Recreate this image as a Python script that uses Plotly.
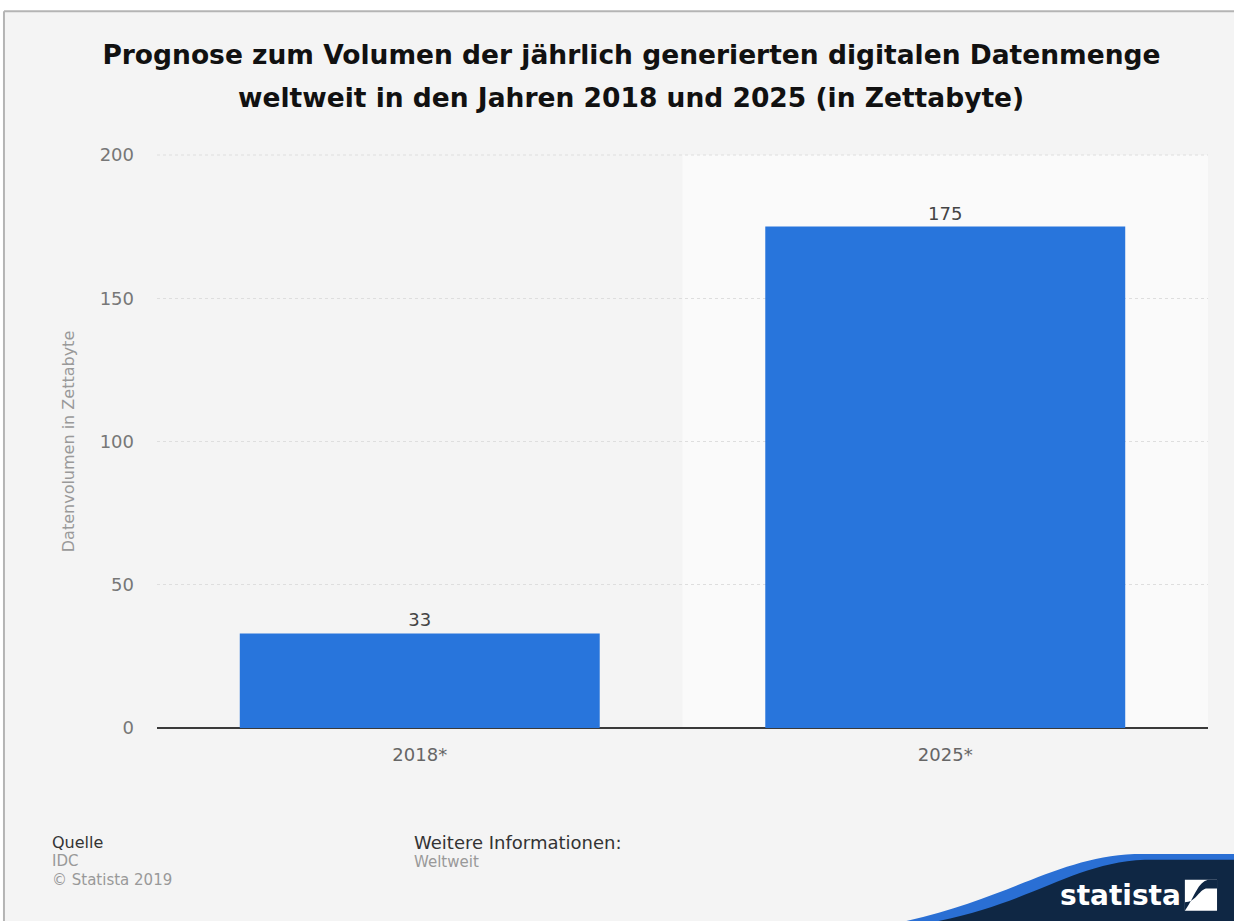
import plotly.graph_objects as go

# Chart data
categories = ["2018*", "2025*"]
values = [33, 175]
y_ticks = [0, 50, 100, 150, 200]

title_line1 = "<b>Prognose zum Volumen der jährlich generierten digitalen Datenmenge</b>"
title_line2 = "<b>weltweit in den Jahren 2018 und 2025 (in Zettabyte)</b>"
y_title = "Datenvolumen in Zettabyte"

BAR_COLOR = "#2875dc"
BG = "#f4f4f4"
NAVY = "#0f2744"
FRAME = "#b4b4b4"
FONT = "DejaVu Sans"
TITLE_FONT = dict(family=FONT, size=26.5, color="#111111")

fig = go.Figure()
fig.add_trace(go.Bar(
    x=categories, y=values,
    marker=dict(color=BAR_COLOR, line=dict(width=0)),
    width=0.685,
    text=[str(v) for v in values],
    textposition="outside",
    textfont=dict(family=FONT, size=18, color="#444444"),
    cliponaxis=False,
    hoverinfo="skip",
))

CARD_L, CARD_T = -0.1456, 1.251

shapes = [
    # card background
    dict(type="rect", xref="paper", yref="paper", x0=CARD_L, x1=1.2, y0=-0.4, y1=CARD_T,
         fillcolor=BG, line=dict(width=0), layer="below"),
    # card frame: top and left edges
    dict(type="line", xref="paper", yref="paper", x0=CARD_L, x1=1.2, y0=CARD_T, y1=CARD_T,
         line=dict(color=FRAME, width=2), layer="below"),
    dict(type="line", xref="paper", yref="paper", x0=CARD_L, x1=CARD_L, y0=-0.4, y1=CARD_T,
         line=dict(color=FRAME, width=2), layer="below"),
    # lighter band behind the second category
    dict(type="rect", xref="x", yref="paper", x0=0.5, x1=1.5, y0=0, y1=1,
         fillcolor="#fafafa", line=dict(width=0), layer="below"),
    # top gridline at the range maximum
    dict(type="line", xref="paper", yref="paper", x0=0, x1=1, y0=1, y1=1,
         line=dict(color="#dedede", width=1, dash="dot"), layer="below"),
    # statista logo banner: blue wave then navy body
    dict(type="path", xref="paper", yref="paper", layer="above",
         path="M 0.705,-0.34 C 0.81,-0.30 0.855,-0.226 0.93,-0.220 L 1.05,-0.220 L 1.05,-0.34 Z",
         fillcolor="#2a6fd4", line=dict(width=0)),
    dict(type="path", xref="paper", yref="paper", layer="above",
         path="M 0.735,-0.34 C 0.835,-0.305 0.87,-0.236 0.94,-0.230 L 1.05,-0.230 L 1.05,-0.34 Z",
         fillcolor=NAVY, line=dict(width=0)),
    # logo icon square with swoosh
    dict(type="rect", xref="paper", yref="paper", layer="above",
         x0=0.978, x1=1.0086, y0=-0.319, y1=-0.265,
         fillcolor="white", line=dict(width=0)),
    dict(type="path", xref="paper", yref="paper", layer="above",
         path="M 0.978,-0.319 L 0.978,-0.304 C 0.988,-0.304 0.991,-0.284 0.998,-0.280 L 1.0086,-0.280 L 1.0086,-0.265 L 1.000,-0.265 C 0.990,-0.270 0.988,-0.293 0.978,-0.319 Z",
         fillcolor=NAVY, line=dict(width=0)),
]

annotations = [
    # second title line
    dict(text=title_line2, xref="paper", yref="paper", x=0.4509, y=1.1012, xanchor="center", yanchor="middle",
         showarrow=False, font=TITLE_FONT),
    dict(text="Quelle", xref="paper", yref="paper", x=-0.102, y=-0.199, xanchor="left", yanchor="middle",
         showarrow=False, font=dict(family=FONT, size=16, color="#333333")),
    dict(text="IDC", xref="paper", yref="paper", x=-0.102, y=-0.232, xanchor="left", yanchor="middle",
         showarrow=False, font=dict(family=FONT, size=15, color="#999999")),
    dict(text="© Statista 2019", xref="paper", yref="paper", x=-0.102, y=-0.265, xanchor="left", yanchor="middle",
         showarrow=False, font=dict(family=FONT, size=15, color="#999999")),
    dict(text="Weitere Informationen:", xref="paper", yref="paper", x=0.2426, y=-0.199, xanchor="left", yanchor="middle",
         showarrow=False, font=dict(family=FONT, size=18, color="#333333")),
    dict(text="Weltweit", xref="paper", yref="paper", x=0.2426, y=-0.234, xanchor="left", yanchor="middle",
         showarrow=False, font=dict(family=FONT, size=15, color="#999999")),
    dict(text="<b>statista</b>", xref="paper", yref="paper", x=0.976, y=-0.292, xanchor="right", yanchor="middle",
         showarrow=False, font=dict(family=FONT, size=28, color="white")),
]

fig.update_layout(
    width=1234, height=921,
    margin=dict(l=157, r=26, t=155, b=193),
    paper_bgcolor="white",
    plot_bgcolor=BG,
    showlegend=False,
    title=dict(text=title_line1, x=0.5117, xanchor="center", y=1 - 55 / 921, yanchor="middle",
               font=TITLE_FONT),
    xaxis=dict(
        tickfont=dict(family=FONT, size=18, color="#666666"),
        ticklabelstandoff=14,
        showgrid=False, ticks="", showline=False, zeroline=False,
        fixedrange=True,
    ),
    yaxis=dict(
        range=[0, 200], tickvals=y_ticks,
        tickfont=dict(family=FONT, size=18, color="#777777"),
        ticklabelstandoff=22,
        showgrid=True, gridcolor="#dedede", griddash="dot", gridwidth=1,
        zeroline=True, zerolinecolor="#3a3a3a", zerolinewidth=2,
        title=dict(text=y_title, standoff=21,
                   font=dict(family=FONT, size=16, color="#999999")),
        fixedrange=True,
    ),
    shapes=shapes,
    annotations=annotations,
)

fig.write_html(
    "out.html",
    config={"displayModeBar": False},
    post_script="document.body.style.margin='0';document.body.style.overflow='hidden';",
)
